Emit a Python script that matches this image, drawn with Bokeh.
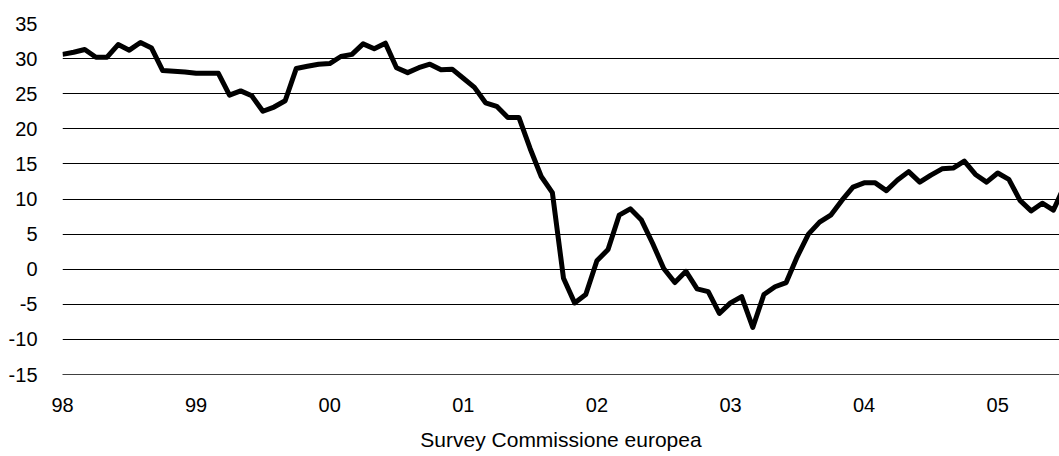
from bokeh.plotting import figure
from bokeh.models import Range1d, FixedTicker
from bokeh.embed import file_html
from bokeh.resources import INLINE

# Monthly index, Jan 1998 = 0
months = list(range(91))
values = [30.6, 30.9, 31.3, 30.2, 30.2, 32.0, 31.2, 32.3, 31.5, 28.3,
          28.2, 28.1, 27.9, 27.9, 27.9, 24.8, 25.4, 24.7, 22.5, 23.1,
          24.0, 28.6, 28.9, 29.2, 29.3, 30.3, 30.6, 32.1, 31.4, 32.2,
          28.7, 28.0, 28.7, 29.2, 28.4, 28.5, 27.2, 25.9, 23.7, 23.2,
          21.6, 21.6, 17.2, 13.2, 10.9, -1.3, -4.8, -3.6, 1.2, 2.8,
          7.7, 8.6, 7.0, 3.7, 0.1, -1.9, -0.3, -2.8, -3.2, -6.3,
          -4.8, -3.9, -8.3, -3.6, -2.5, -1.9, 1.8, 5.0, 6.7, 7.7,
          9.8, 11.7, 12.3, 12.3, 11.2, 12.7, 13.9, 12.4, 13.4, 14.3,
          14.4, 15.4, 13.5, 12.4, 13.7, 12.8, 9.8, 8.3, 9.4, 8.4,
          11.9]
year_ticks = [0, 12, 24, 36, 48, 60, 72, 84]
year_labels = ["98", "99", "00", "01", "02", "03", "04", "05"]
y_ticks = [-15, -10, -5, 0, 5, 10, 15, 20, 25, 30, 35]
y_labels = ["-15", "-10", "-5", "0", "5", "10", "15", "20", "25", "30", "35"]
x_title = "Survey Commissione europea"

FONT = "Liberation Sans"

p = figure(frame_width=997, frame_height=351,
           x_range=Range1d(0, 89.55), y_range=Range1d(-15, 35),
           output_backend="svg", toolbar_location=None,
           min_border_left=62, min_border_right=0, min_border_top=23,
           min_border_bottom=82, outline_line_color=None,
           background_fill_color="white", border_fill_color="white")

p.line(months, values, line_color="black", line_width=5, line_join="round")

# axes
p.xaxis.ticker = FixedTicker(ticks=year_ticks)
p.xaxis.major_label_overrides = {t: l for t, l in zip(year_ticks, year_labels)}
p.xaxis.axis_label = x_title
p.xaxis.axis_line_color = "#404040"
p.xaxis.axis_line_width = 1
p.xaxis.major_tick_line_color = None
p.xaxis.minor_tick_line_color = None
p.xaxis.major_label_standoff = 17
p.xaxis.axis_label_standoff = 13
p.xaxis.major_label_text_font = FONT
p.xaxis.major_label_text_font_size = "20px"
p.xaxis.major_label_text_color = "black"
p.xaxis.axis_label_text_font = FONT
p.xaxis.axis_label_text_font_size = "21px"
p.xaxis.axis_label_text_font_style = "normal"
p.xaxis.axis_label_text_color = "black"

p.yaxis.ticker = FixedTicker(ticks=y_ticks)
p.yaxis.major_label_overrides = {t: l for t, l in zip(y_ticks, y_labels)}
p.yaxis.axis_line_color = None
p.yaxis.major_tick_line_color = None
p.yaxis.minor_tick_line_color = None
p.yaxis.major_label_standoff = 19
p.yaxis.major_label_text_font = FONT
p.yaxis.major_label_text_font_size = "20px"
p.yaxis.major_label_text_color = "black"

p.xgrid.grid_line_color = None
p.ygrid.ticker = FixedTicker(ticks=y_ticks)
p.ygrid.grid_line_color = "black"
p.ygrid.grid_line_width = 1

open("out.html", "w").write(file_html(p, INLINE))
